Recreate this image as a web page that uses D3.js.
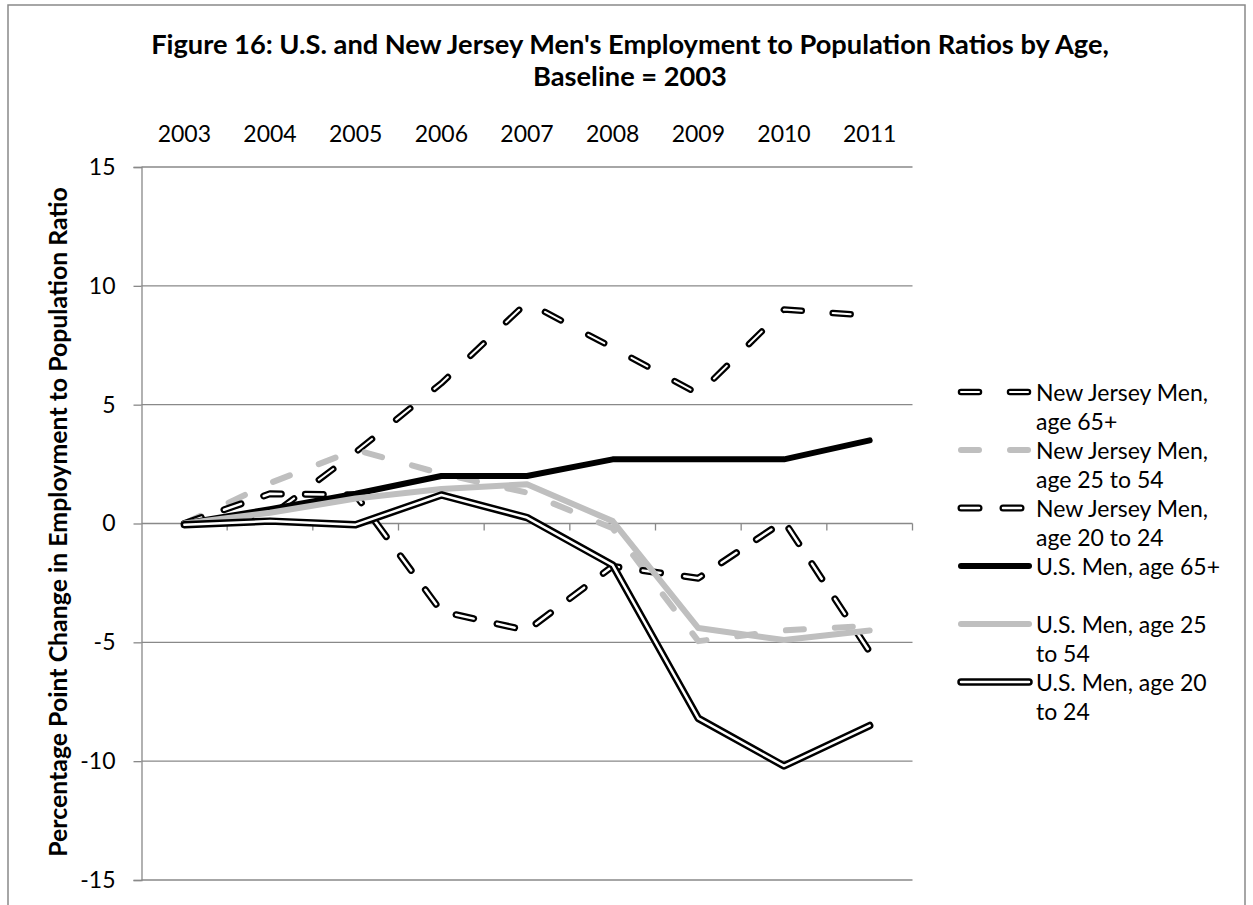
<!DOCTYPE html>
<html>
<head>
<meta charset="utf-8">
<script src="https://cdn.jsdelivr.net/npm/d3@7"></script>
<style>
  html, body { margin: 0; padding: 0; background: #ffffff; }
  svg { display: block; }
  text { font-family: Lato, "Open Sans", "DejaVu Sans", sans-serif; fill: #000; }
</style>
</head>
<body>
<svg id="chart" width="1253" height="905"></svg>
<script>
// Categories (years) and percentage-point change series, baseline 2003 = 0
const years = ["2003", "2004", "2005", "2006", "2007", "2008", "2009", "2010", "2011"];

const njMen65 = [0, 0.3, 3.0, 5.9, 9.3, 7.4, 5.45, 9.0, 8.75];
const njMen25to54 = [0, 1.7, 3.1, 2.1, 1.3, -0.2, -4.95, -4.5, -4.3];
const njMen20to24 = [0, 1.25, 1.2, -3.7, -4.5, -1.8, -2.3, 0.1, -5.4];
const usMen65 = [0, 0.6, 1.25, 2.0, 2.0, 2.7, 2.7, 2.7, 3.5];
const usMen25to54 = [0, 0.45, 1.05, 1.45, 1.65, 0.1, -4.4, -4.9, -4.5];
const usMen20to24 = [-0.05, 0.1, -0.05, 1.2, 0.25, -1.75, -8.2, -10.2, -8.5];

const yTicks = [-15, -10, -5, 0, 5, 10, 15];

const seriesLabels = [
  ["New Jersey Men,", "age 65+"],
  ["New Jersey Men,", "age 25 to 54"],
  ["New Jersey Men,", "age 20 to 24"],
  ["U.S. Men, age 65+"],
  ["U.S. Men, age 25", "to 54"],
  ["U.S. Men, age 20", "to 24"]
];

const titleLines = [
  "Figure 16: U.S. and New Jersey Men's Employment to Population Ratios by Age,",
  "Baseline = 2003"
];
const yTitle = "Percentage Point Change in Employment to Population Ratio";

// Line styles: outer stroke, optional white inner stroke for the double-line look
const styles = [
  { color: "#000", width: 6.5, dash: "18 31", inner: 2 },
  { color: "#bfbfbf", width: 6, dash: "18 31", inner: 0 },
  { color: "#000", width: 7, dash: "18 24", inner: 2.5 },
  { color: "#000", width: 6, dash: null, inner: 0 },
  { color: "#bfbfbf", width: 6, dash: null, inner: 0 },
  { color: "#000", width: 7.5, dash: null, inner: 2.5 }
];

const series = [njMen65, njMen25to54, njMen20to24, usMen65, usMen25to54, usMen20to24].map((values, i) => ({
  label: seriesLabels[i],
  values: values,
  style: styles[i]
}));

const svg = d3.select("#chart");
const gridColor = "#898989";

// Outer chart frame
svg.append("rect")
  .attr("x", 8).attr("y", 5)
  .attr("width", 1237).attr("height", 915)
  .attr("fill", "#fff")
  .attr("stroke", gridColor).attr("stroke-width", 1.5);

const plot = { left: 141.5, right: 912.5, top: 167, bottom: 880 };

const x = d3.scaleBand().domain(years).range([plot.left, plot.right]);
const xc = d => x(d) + x.bandwidth() / 2;
const y = d3.scaleLinear().domain([-15, 15]).range([plot.bottom, plot.top]);

// Horizontal gridlines
svg.append("g")
  .selectAll("line")
  .data(yTicks)
  .join("line")
  .attr("x1", plot.left).attr("x2", plot.right)
  .attr("y1", d => y(d)).attr("y2", d => y(d))
  .attr("stroke", gridColor).attr("stroke-width", 1.3);

// Value axis with outward ticks
const yAxis = svg.append("g")
  .attr("transform", `translate(${plot.left},0)`)
  .call(d3.axisLeft(y).tickValues(yTicks).tickSize(8).tickPadding(18).tickFormat(d3.format("d")));
yAxis.select(".domain").attr("stroke", gridColor).attr("stroke-width", 1.3);
yAxis.selectAll(".tick line").attr("stroke", gridColor).attr("stroke-width", 1.3);
yAxis.selectAll(".tick text")
  .attr("font-size", 23).attr("font-family", "Lato, sans-serif")
  .text(d => d < 0 ? "-" + Math.abs(d) : d);

// Category tick marks at band edges along the zero line
const edges = years.map(d => x(d)).concat([x(years[years.length - 1]) + x.bandwidth()]);
svg.append("g")
  .selectAll("line")
  .data(edges.slice(1))
  .join("line")
  .attr("x1", d => d).attr("x2", d => d)
  .attr("y1", y(0)).attr("y2", y(0) + 7)
  .attr("stroke", gridColor).attr("stroke-width", 1.3);

// Category labels along the top
const xAxis = svg.append("g")
  .attr("transform", `translate(0,${plot.top - 25})`)
  .call(d3.axisTop(x).tickSize(0).tickPadding(0));
xAxis.select(".domain").remove();
xAxis.selectAll(".tick text")
  .attr("font-size", 23).attr("font-family", "Lato, sans-serif")
  .attr("dy", "0");

// Series lines
const line = d3.line()
  .x((d, i) => xc(years[i]))
  .y(d => y(d))
  .curve(d3.curveLinear);

const seriesG = svg.append("g");
series.forEach(s => {
  const st = s.style;
  seriesG.append("path")
    .attr("d", line(s.values))
    .attr("fill", "none")
    .attr("stroke", st.color)
    .attr("stroke-width", st.width)
    .attr("stroke-linejoin", "round")
    .attr("stroke-linecap", "round")
    .attr("stroke-dasharray", st.dash);
  if (st.inner) {
    seriesG.append("path")
      .attr("d", line(s.values))
      .attr("fill", "none")
      .attr("stroke", "#fff")
      .attr("stroke-width", st.inner)
      .attr("stroke-linejoin", "round")
      .attr("stroke-linecap", "round")
      .attr("stroke-dasharray", st.dash);
  }
});

// Legend: every entry gets a two-line slot
const legendTop = 392;
const entryGap = 58;
const lineHeight = 29;
const legend = svg.append("g");
series.forEach((s, i) => {
  const yy = legendTop + i * entryGap;
  const st = s.style;
  const seg = `M961,${yy}L1029,${yy}`;
  legend.append("path")
    .attr("d", seg)
    .attr("stroke", st.color).attr("stroke-width", st.width)
    .attr("stroke-linecap", "round")
    .attr("stroke-dasharray", st.dash);
  if (st.inner) {
    legend.append("path")
      .attr("d", seg)
      .attr("stroke", "#fff").attr("stroke-width", st.inner)
      .attr("stroke-linecap", "round")
      .attr("stroke-dasharray", st.dash);
  }
  const t = legend.append("text")
    .attr("x", 1036).attr("y", yy)
    .attr("dominant-baseline", "central")
    .attr("font-size", 23);
  s.label.forEach((ln, k) => {
    t.append("tspan").attr("x", 1036).attr("dy", k === 0 ? 0 : lineHeight).text(ln);
  });
});

// Fit a text element to a target width by adjusting its font size
function fitWidth(sel, target) {
  const w = sel.node().getComputedTextLength();
  const fs = parseFloat(sel.attr("font-size"));
  sel.attr("font-size", fs * target / w);
}

// Title
const t1 = svg.append("text")
  .attr("x", 630).attr("y", 54)
  .attr("text-anchor", "middle")
  .attr("font-weight", "bold").attr("font-size", 24)
  .text(titleLines[0]);
fitWidth(t1, 958);
const t2 = svg.append("text")
  .attr("x", 630).attr("y", 86)
  .attr("text-anchor", "middle")
  .attr("font-weight", "bold").attr("font-size", t1.attr("font-size"))
  .text(titleLines[1]);

// Value axis title
const yt = svg.append("text")
  .attr("transform", `translate(57,522) rotate(-90)`)
  .attr("text-anchor", "middle")
  .attr("dominant-baseline", "central")
  .attr("font-weight", "bold").attr("font-size", 22)
  .text(yTitle);
fitWidth(yt, 670);
</script>
</body>
</html>
